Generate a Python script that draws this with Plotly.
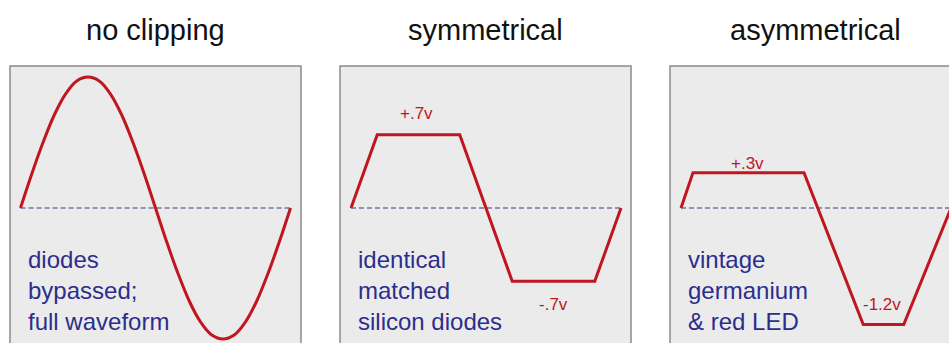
import plotly.graph_objects as go

# ---- data ----
panel_titles = ["no clipping", "symmetrical", "asymmetrical"]

# panel 1: full sine (phase in degrees, normalized amplitude)
sine_x = [0, 15, 30, 45, 60, 75, 90, 105, 120, 135, 150, 165, 180,
          195, 210, 225, 240, 255, 270, 285, 300, 315, 330, 345, 360]
sine_y = [0, 0.26, 0.5, 0.71, 0.87, 0.97, 1.0, 0.97, 0.87, 0.71, 0.5, 0.26, 0,
          -0.26, -0.5, -0.71, -0.87, -0.97, -1.0, -0.97, -0.87, -0.71, -0.5, -0.26, 0]

# panel 2: symmetrical clipping (silicon diodes)
sym_x = [0, 35, 145, 215, 325, 360]
sym_y = [0, 0.56, 0.56, -0.56, -0.56, 0]

# panel 3: asymmetrical clipping (germanium + LED)
asym_x = [0, 16, 164, 243, 297, 360]
asym_y = [0, 0.27, 0.27, -0.89, -0.89, 0]

baseline_x = [0, 360]
baseline_y = [0, 0]

descriptions = [
    ["diodes", "bypassed;", "full waveform"],
    ["identical", "matched", "silicon diodes"],
    ["vintage", "germanium", "& red LED"],
]

# clip labels: (panel index, x, y, text)
clip_label_panel = [2, 2, 3, 3]
clip_label_x = [87, 270, 88, 268]
clip_label_y = [0.72, -0.74, 0.34, -0.74]
clip_label_text = ["+.7v", "-.7v", "+.3v", "-1.2v"]

# ---- style ----
RED = "#c0161f"
BLUE = "#2b2e8c"
DASH = "#7474a2"
BOX = "#8a8a8a"
BG = "#ebebeb"
FONT = "Liberation Sans, Arial, Helvetica, sans-serif"

W, H = 949, 343
box_left_px = [10, 340, 670]
box_width_px = 291
box_top_px = 66
px_per_deg = 0.75
px_per_unit = 131.0
zero_px = 208
wave_start_px = [20.5, 351, 681]

fig = go.Figure()

waves = [(sine_x, sine_y, "spline"), (sym_x, sym_y, "linear"), (asym_x, asym_y, "linear")]
for i, (wx, wy, shape) in enumerate(waves):
    ax = "" if i == 0 else str(i + 1)
    fig.add_trace(go.Scatter(x=baseline_x, y=baseline_y, mode="lines",
                             line=dict(color=DASH, width=1.5, dash="5px,3px"),
                             xaxis="x" + ax, yaxis="y" + ax, hoverinfo="skip"))
    fig.add_trace(go.Scatter(x=wx, y=wy, mode="lines",
                             line=dict(color=RED, width=3, shape=shape),
                             xaxis="x" + ax, yaxis="y" + ax, hoverinfo="skip"))

layout = dict(width=W, height=H, margin=dict(l=0, r=0, t=0, b=0),
              paper_bgcolor="white", plot_bgcolor=BG, showlegend=False,
              font=dict(family=FONT))

y_top = (zero_px - box_top_px) / px_per_unit
y_bot = -(H - zero_px) / px_per_unit
ydom = [0, (H - box_top_px) / H]

shapes = []
annotations = []
for i in range(3):
    ax = "" if i == 0 else str(i + 1)
    left = box_left_px[i]
    right = min(left + box_width_px, W)
    x0 = -(wave_start_px[i] - left) / px_per_deg
    x1 = x0 + (right - left) / px_per_deg
    layout["xaxis" + ax] = dict(domain=[left / W, right / W], range=[x0, x1],
                                visible=False, anchor="y" + ax, fixedrange=True)
    layout["yaxis" + ax] = dict(domain=ydom, range=[y_bot, y_top],
                                visible=False, anchor="x" + ax, fixedrange=True)
    shapes.append(dict(type="rect", xref="x" + ax + " domain", yref="y" + ax + " domain",
                       x0=0, x1=1 if i < 2 else 1.08, y0=-0.1, y1=1,
                       line=dict(color=BOX, width=1.5), fillcolor="rgba(0,0,0,0)",
                       layer="above"))
    # title
    annotations.append(dict(text=panel_titles[i], xref="paper", yref="paper",
                            x=(left + box_width_px / 2) / W, y=1 - 30 / H,
                            xanchor="center", yanchor="middle", showarrow=False,
                            font=dict(size=29, color="#111111", family=FONT)))
    # description lines
    for j, line in enumerate(descriptions[i]):
        annotations.append(dict(text=line, xref="x" + ax, yref="y" + ax,
                                x=x0 + (16 / px_per_deg), y=-(51 + 31 * j) / px_per_unit,
                                xanchor="left", yanchor="middle", showarrow=False,
                                font=dict(size=24, color=BLUE, family=FONT)))

for p, lx, ly, lt in zip(clip_label_panel, clip_label_x, clip_label_y, clip_label_text):
    ax = "" if p == 1 else str(p)
    annotations.append(dict(text=lt, xref="x" + ax, yref="y" + ax, x=lx, y=ly,
                            xanchor="center", yanchor="middle", showarrow=False,
                            font=dict(size=17, color=RED, family=FONT)))

layout["shapes"] = shapes
layout["annotations"] = annotations
fig.update_layout(**layout)
fig.write_html("out.html", config={"displayModeBar": False},
               post_script="document.body.style.margin='0';document.body.style.overflow='hidden';")
